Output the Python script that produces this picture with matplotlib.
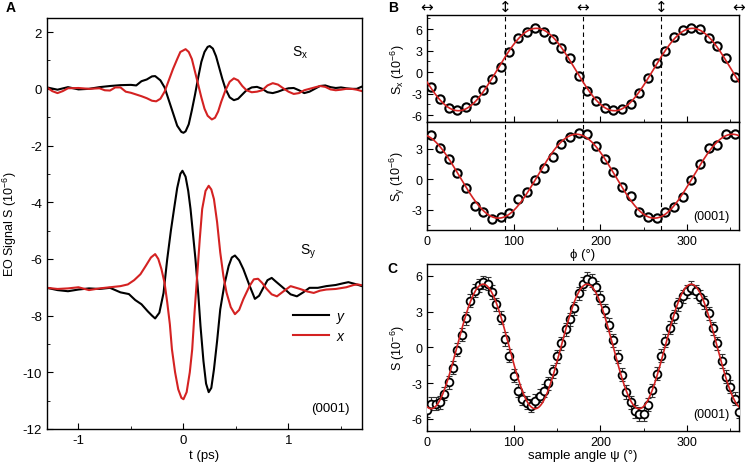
import numpy as np
import matplotlib
matplotlib.use("Agg")
import matplotlib.pyplot as plt
from matplotlib.ticker import MultipleLocator

plt.rcParams['font.family'] = ['Liberation Sans', 'DejaVu Sans']
plt.rcParams['mathtext.fontset'] = 'custom'
plt.rcParams['mathtext.rm'] = 'Liberation Sans'
plt.rcParams['mathtext.it'] = 'Liberation Sans:italic'
plt.rcParams['axes.unicode_minus'] = False

RED = '#d42222'

# ---- panel A: EO time traces (10^-6) ----
t_sx_y = [-1.30, -1.20, -1.10, -1.00, -0.90, -0.80, -0.70, -0.60, -0.50, -0.45, -0.40, -0.35,
          -0.30, -0.27, -0.22, -0.18, -0.14, -0.10, -0.06, -0.02, 0.00, 0.02, 0.05, 0.08,
          0.11, 0.14, 0.17, 0.20, 0.23, 0.25, 0.28, 0.31, 0.34, 0.37, 0.40, 0.44, 0.48,
          0.52, 0.56, 0.60, 0.65, 0.70, 0.75, 0.80, 0.85, 0.90, 0.95, 1.00, 1.05, 1.10,
          1.15, 1.20, 1.25, 1.30, 1.35, 1.40, 1.45, 1.50, 1.55, 1.60, 1.65, 1.70]
sx_y = [0.05, -0.03, 0.06, -0.02, 0.00, 0.06, 0.10, 0.13, 0.14, 0.12, 0.27, 0.33,
        0.44, 0.45, 0.30, 0.05, -0.40, -0.85, -1.30, -1.52, -1.55, -1.50, -1.25, -0.75,
        -0.20, 0.40, 0.95, 1.30, 1.48, 1.51, 1.42, 1.15, 0.75, 0.35, 0.00, -0.30, -0.40,
        -0.35, -0.20, -0.05, 0.05, 0.07, 0.00, -0.12, -0.15, -0.10, -0.03, 0.02, 0.03, -0.05,
        -0.15, -0.10, 0.00, 0.10, 0.12, 0.06, 0.03, 0.05, 0.02, 0.00, 0.00, 0.08]

t_sx_x = [-1.30, -1.25, -1.20, -1.15, -1.10, -1.00, -0.90, -0.80, -0.75, -0.70, -0.65, -0.60,
          -0.55, -0.50, -0.45, -0.40, -0.35, -0.30, -0.26, -0.22, -0.18, -0.14, -0.10, -0.06,
          -0.03, 0.02, 0.05, 0.08, 0.11, 0.14, 0.17, 0.20, 0.23, 0.27, 0.30, 0.33, 0.36,
          0.40, 0.44, 0.48, 0.52, 0.56, 0.60, 0.65, 0.70, 0.75, 0.80, 0.85, 0.90, 0.95,
          1.00, 1.05, 1.10, 1.15, 1.20, 1.25, 1.30, 1.35, 1.40, 1.45, 1.50, 1.55, 1.60,
          1.65, 1.70]
sx_x = [0.05, -0.08, -0.15, -0.08, 0.02, 0.03, 0.00, 0.02, -0.05, -0.06, 0.05, 0.05,
        -0.10, -0.14, -0.20, -0.26, -0.33, -0.42, -0.44, -0.35, -0.10, 0.30, 0.70, 1.05,
        1.30, 1.40, 1.30, 1.05, 0.60, 0.15, -0.30, -0.70, -0.95, -1.08, -1.02, -0.80, -0.45,
        -0.05, 0.25, 0.37, 0.30, 0.10, -0.05, -0.12, -0.10, -0.05, 0.12, 0.20, 0.15, 0.02,
        -0.10, -0.18, -0.15, -0.05, 0.00, 0.05, 0.10, 0.07, -0.02, -0.05, -0.03, 0.00, 0.00,
        -0.03, -0.08]

t_sy_y = [-1.30, -1.20, -1.10, -1.00, -0.90, -0.80, -0.70, -0.60, -0.52, -0.46, -0.40, -0.34,
          -0.30, -0.27, -0.23, -0.19, -0.155, -0.12, -0.09, -0.06, -0.03, -0.01, 0.02, 0.045,
          0.067, 0.09, 0.114, 0.14, 0.162, 0.19, 0.215, 0.24, 0.265, 0.29, 0.32, 0.35, 0.39,
          0.43, 0.46, 0.49, 0.53, 0.57, 0.63, 0.68, 0.72, 0.76, 0.80, 0.84, 0.88, 0.95,
          1.02, 1.08, 1.14, 1.20, 1.28, 1.36, 1.45, 1.52, 1.57, 1.63, 1.70]
sy_y = [-7.02, -7.10, -7.14, -7.08, -7.04, -7.06, -7.02, -7.18, -7.24, -7.45, -7.60, -7.85,
        -8.00, -8.10, -7.90, -7.20, -6.01, -5.00, -4.24, -3.50, -3.00, -2.89, -3.10, -3.60,
        -4.24, -5.10, -6.01, -7.20, -8.37, -9.60, -10.40, -10.70, -10.55, -9.90, -8.90, -7.78, -6.90,
        -6.25, -5.95, -5.88, -6.05, -6.36, -6.95, -7.41, -7.30, -7.02, -6.75, -6.67, -6.80, -7.02,
        -7.25, -7.32, -7.18, -7.02, -7.02, -6.96, -6.92, -6.86, -6.82, -6.88, -6.96]

t_sy_x = [-1.30, -1.20, -1.10, -1.00, -0.90, -0.80, -0.70, -0.60, -0.53, -0.47, -0.41, -0.36,
          -0.31, -0.27, -0.24, -0.21, -0.18, -0.155, -0.13, -0.11, -0.08, -0.05, -0.02, 0.00,
          0.03, 0.06, 0.083, 0.105, 0.13, 0.155, 0.178, 0.21, 0.24, 0.265, 0.29, 0.32, 0.35,
          0.38, 0.41, 0.45, 0.49, 0.53, 0.57, 0.63, 0.67, 0.71, 0.75, 0.79, 0.84, 0.89,
          0.95, 1.02, 1.11, 1.18, 1.24, 1.30, 1.36, 1.45, 1.55, 1.62, 1.66, 1.70]
sy_x = [-7.02, -7.06, -7.04, -7.00, -7.10, -7.04, -7.00, -6.96, -6.90, -6.75, -6.54, -6.25,
        -5.95, -5.83, -6.00, -6.36, -6.85, -7.53, -8.30, -9.19, -10.00, -10.60, -10.90, -10.95,
        -10.70, -10.00, -9.19, -7.90, -6.60, -5.30, -4.24, -3.60, -3.42, -3.55, -3.89, -4.70, -5.77,
        -6.60, -7.19, -7.70, -7.95, -7.80, -7.42, -6.95, -6.72, -6.70, -6.85, -7.05, -7.25, -7.32,
        -7.15, -6.96, -7.06, -7.15, -7.20, -7.12, -7.08, -7.06, -7.00, -6.92, -6.90, -6.93]

# ---- panel B: azimuthal dependence, phi in degrees ----
phi = [5, 15, 25, 35, 45, 55, 65, 75, 85, 95, 105, 115, 125, 135, 145, 155, 165, 175,
       185, 195, 205, 215, 225, 235, 245, 255, 265, 275, 285, 295, 305, 315, 325, 335, 345, 355]
sx_phi = [-2.05, -3.7, -5.0, -5.35, -4.8, -3.95, -2.55, -1.0, 0.68, 2.8, 4.7, 5.6, 6.2, 5.55,
          4.65, 3.3, 1.95, -0.6, -2.6, -4.1, -5.0, -5.35, -5.1, -4.45, -2.95, -0.8, 1.25, 2.95,
          4.85, 5.8, 6.2, 6.05, 4.7, 3.65, 1.95, -0.7]
sy_phi = [4.3, 3.1, 2.0, 0.6, -0.9, -2.6, -3.2, -3.9, -3.75, -3.35, -2.0, -1.25, -0.1, 1.1,
          2.15, 3.45, 4.2, 4.55, 4.4, 3.25, 2.0, 0.7, -0.8, -1.7, -3.2, -3.7, -3.8, -3.25,
          -2.7, -1.75, -0.05, 1.5, 3.05, 3.4, 4.4, 4.45]
marks_phi = [0, 90, 180, 270, 360]
marks_sym = ['\u2194', '\u2195', '\u2194', '\u2195', '\u2194']

# ---- panel C: sample angle psi ----
psi = list(range(0, 365, 5))
s_psi = [-5.3, -4.75, -4.75, -4.6, -3.9, -2.95, -1.7, -0.2, 1.05, 2.45, 3.9, 4.75, 5.2, 5.45,
         5.35, 4.65, 3.6, 2.5, 0.7, -0.7, -2.4, -3.65, -4.3, -4.65, -4.9, -4.5, -4.05, -3.65,
         -3.0, -2.0, -0.75, 0.35, 1.5, 2.35, 3.3, 4.55, 5.35, 5.75, 5.6, 5.05, 4.15, 3.1,
         1.9, 0.6, -0.8, -2.3, -3.75, -4.6, -5.35, -5.6, -5.6, -4.8, -3.6, -2.2, -0.7, 0.55,
         1.65, 2.6, 3.6, 4.3, 4.7, 5.0, 4.7, 4.25, 3.8, 2.85, 1.6, 0.35, -1.15, -2.45,
         -3.3, -4.3, -5.4]
s_err = [0.55] * len(psi)


def harmonic_fit(ang, val, n):
    # least squares fit of c0 + a*cos(n*ang) + b*sin(n*ang) to the measured points
    r = np.deg2rad(np.asarray(ang, float)) * n
    A = np.column_stack([np.ones_like(r), np.cos(r), np.sin(r)])
    coef = np.linalg.lstsq(A, np.asarray(val, float), rcond=None)[0]
    xs = np.linspace(0, 360, 721)
    rs = np.deg2rad(xs) * n
    return xs, coef[0] + coef[1] * np.cos(rs) + coef[2] * np.sin(rs)


def style_ax(ax):
    ax.tick_params(direction='in', which='both', labelsize=9.5, top=False, right=False)
    ax.tick_params(which='major', length=4)
    ax.tick_params(which='minor', length=2.5)
    for s in ax.spines.values():
        s.set_linewidth(1.0)


fig = plt.figure(figsize=(7.47, 4.64), dpi=100)

# panel A
axA = fig.add_axes([0.0629, 0.0733, 0.4217, 0.8858])
axA.plot(t_sx_y, sx_y, color='black', lw=1.5)
axA.plot(t_sx_x, sx_x, color=RED, lw=1.5)
axA.plot(t_sy_y, sy_y, color='black', lw=1.5, label='$\\mathit{y}$')
axA.plot(t_sy_x, sy_x, color=RED, lw=1.5, label='$\\mathit{x}$')
axA.set_xlim(-1.3, 1.7)
axA.set_ylim(-12, 2.5)
axA.xaxis.set_major_locator(MultipleLocator(1))
axA.xaxis.set_minor_locator(MultipleLocator(0.5))
axA.yaxis.set_major_locator(MultipleLocator(2))
axA.yaxis.set_minor_locator(MultipleLocator(1))
style_ax(axA)
axA.set_xlabel('t (ps)', fontsize=9.5, labelpad=2)
axA.set_ylabel('EO Signal S (10$^{-6}$)', fontsize=9)
axA.yaxis.set_label_coords(-0.088, 0.5)
axA.text(1.03, 1.16, 'S$_\\mathregular{x}$', fontsize=10)
axA.text(1.11, -5.8, 'S$_\\mathregular{y}$', fontsize=10)
axA.text(1.22, -11.35, '(0001)', fontsize=9.5)
axA.legend(loc='lower right', bbox_to_anchor=(0.99, 0.18), frameon=False, fontsize=10,
           handlelength=2.6, labelspacing=0.25, handletextpad=0.5)

# panel B
axB1 = fig.add_axes([0.5716, 0.7343, 0.4177, 0.2319])
axB2 = fig.add_axes([0.5716, 0.5022, 0.4177, 0.2321], sharex=axB1)
for ax, vals, lim, lab in [(axB1, sx_phi, (-7, 8), 'S$_\\mathregular{x}$ (10$^{-6}$)'),
                           (axB2, sy_phi, (-5, 5.6), 'S$_\\mathregular{y}$ (10$^{-6}$)')]:
    xs, fit = harmonic_fit(phi, vals, 2)
    ax.plot(phi, vals, 'o', ms=6, mfc='white', mec='black', mew=1.5, zorder=3)
    ax.plot(xs, fit, color=RED, lw=1.2, zorder=4)
    for m in marks_phi[1:-1]:
        ax.axvline(m, color='black', ls=(0, (4, 3)), lw=0.8, zorder=1)
    ax.set_ylim(*lim)
    ax.yaxis.set_major_locator(MultipleLocator(3))
    ax.yaxis.set_minor_locator(MultipleLocator(1.5))
    style_ax(ax)
    ax.tick_params(labelsize=9)
    ax.set_ylabel(lab, fontsize=9, labelpad=3)
axB1.set_xlim(0, 360)
axB1.xaxis.set_major_locator(MultipleLocator(100))
axB1.xaxis.set_minor_locator(MultipleLocator(50))
axB1.tick_params(labelbottom=False)
axB2.set_xlabel('\u03d5 (\u00b0)', fontsize=9.5, labelpad=1)
axB2.text(0.97, 0.1, '(0001)', transform=axB2.transAxes, ha='right', fontsize=9)
for m, sym in zip(marks_phi, marks_sym):
    axB1.text(m, 1.075, sym, transform=axB1.get_xaxis_transform(), ha='center', va='center',
              fontsize=11, family='DejaVu Sans', clip_on=False)

# panel C
axC = fig.add_axes([0.5716, 0.0696, 0.4177, 0.3593])
xs, fit = harmonic_fit(psi, s_psi, 3)
axC.errorbar(psi, s_psi, yerr=s_err, fmt='none', ecolor='#333333', elinewidth=0.8,
             capsize=2, capthick=0.8, zorder=2)
axC.plot(psi, s_psi, 'o', ms=5.6, mfc='white', mec='black', mew=1.3, zorder=3)
axC.plot(xs, fit, color=RED, lw=1.2, zorder=4)
axC.set_xlim(0, 360)
axC.set_ylim(-7, 7)
axC.xaxis.set_major_locator(MultipleLocator(100))
axC.xaxis.set_minor_locator(MultipleLocator(50))
axC.yaxis.set_major_locator(MultipleLocator(3))
axC.yaxis.set_minor_locator(MultipleLocator(1.5))
style_ax(axC)
axC.tick_params(labelsize=9)
axC.set_xlabel('sample angle \u03c8 (\u00b0)', fontsize=9.5, labelpad=1)
axC.set_ylabel('S (10$^{-6}$)', fontsize=9, labelpad=3)
axC.text(0.97, 0.08, '(0001)', transform=axC.transAxes, ha='right', fontsize=9)

# panel letters
fig.text(0.007, 0.982, 'A', fontsize=10, fontweight='bold', va='center')
fig.text(0.519, 0.982, 'B', fontsize=10, fontweight='bold', va='center')
fig.text(0.519, 0.42, 'C', fontsize=10, fontweight='bold', va='center')

fig.savefig('out.png', dpi=100)
